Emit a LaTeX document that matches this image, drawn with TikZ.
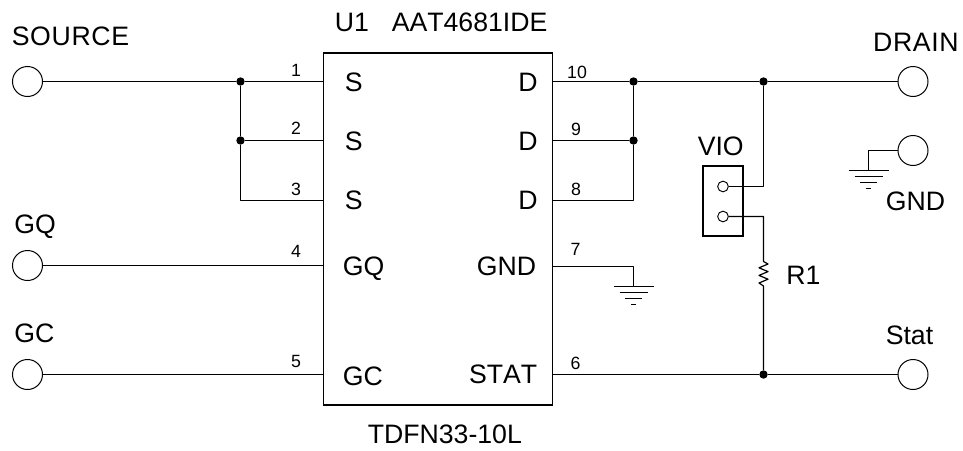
\documentclass[tikz,border=0pt]{standalone}
\usepackage{fontspec}
\setmainfont[Kerning=Off]{Liberation Sans}
\tikzset{
  term/.style={draw,line width=0.75pt,circle,minimum size=22.5pt,inner sep=0pt},
  hole/.style={draw,line width=0.7pt,circle,minimum size=8pt,inner sep=0pt},
  dot/.style={fill,circle,minimum size=6.3pt,inner sep=0pt},
  lbl/.style={inner sep=0pt,font=\fontsize{20}{22}\selectfont},
  lblwide/.style={inner sep=0pt,font=\fontsize{20}{22}\selectfont\addfontfeature{LetterSpace=2.5}},
  pinno/.style={inner sep=0pt,font=\fontsize{13.3}{15}\selectfont},
  wire/.style={line width=0.9pt,join=round},
  gnd/.pic={%
    \draw[wire] (-20,0) -- (20,0) (-14,6) -- (14,6) (-8.5,12) -- (8.5,12) (-2.5,18) -- (2.5,18);%
  },
}
\begin{document}
\begin{tikzpicture}[x=0.75pt,y=-0.75pt]%
\useasboundingbox (0,0) rectangle (963,450);%
% terminals
\node[term] (source) at (27.5,81.5) {};%
\node[term] (gq) at (27.5,265.5) {};%
\node[term] (gc) at (27.5,374.5) {};%
\node[term] (drain) at (913,81.5) {};%
\node[term] (gndt) at (913,150.5) {};%
\node[term] (stat) at (913,374.5) {};%
% package
\node[draw,line width=0.9pt,minimum width=171.75pt,minimum height=264pt,inner sep=0pt] (u1) at (438.2,229) {};%
\coordinate (p1) at (324,81.5);%
\coordinate (p2) at (324,140.5);%
\coordinate (p3) at (324,200.5);%
\coordinate (p4) at (324,265.5);%
\coordinate (p5) at (324,374.5);%
\coordinate (p10) at (553,81.5);%
\coordinate (p9) at (553,140.5);%
\coordinate (p8) at (553,200.5);%
\coordinate (p7) at (553,266.5);%
\coordinate (p6) at (553,374.5);%
% junctions
\node[dot] (js1) at (240.5,81.5) {};%
\node[dot] (js2) at (240.5,140.5) {};%
\node[dot] (jd1) at (633.5,81.5) {};%
\node[dot] (jd2) at (633.5,140.5) {};%
\node[dot] (jr) at (763.5,81.5) {};%
\node[dot] (jb) at (763.5,374.5) {};%
% header
\node[draw,line width=0.9pt,minimum width=30pt,minimum height=52.5pt,inner sep=0pt] (vio) at (723,201) {};%
\node[hole] (h1) at (723,186.5) {};%
\node[hole] (h2) at (723,216.5) {};%
% wires
\draw[wire] (source) -- (js1) -- (p1);%
\draw[wire] (js1) -- (js2) -- (p2);%
\draw[wire] (js2) |- (p3);%
\draw[wire] (gq) -- (p4);%
\draw[wire] (gc) -- (p5);%
\draw[wire] (p10) -- (jd1) -- (jr) -- (drain);%
\draw[wire] (p9) -- (jd2) -- (jd1);%
\draw[wire] (p8) -| (jd2);%
\draw[wire] (p6) -- (jb) -- (stat);%
\draw[wire] (jr) |- (h1);%
% resistor
\coordinate (r1a) at (763.5,261.5);%
\coordinate (r1b) at (763.5,286);%
\draw[wire] (h2) -| (r1a) -- ++(4.5,2.5) -- ++(-9,3.8) -- ++(9,3.8) -- ++(-9,3.8) -- ++(9,3.8) -- ++(-9,3.8) -- (r1b) -- (jb);%
% grounds
\coordinate (g7) at (633.5,286.5);%
\coordinate (g0) at (868.5,170.5);%
\draw[wire] (p7) -| (g7);%
\draw[wire] (gndt) -| (g0);%
\pic at (g7) {gnd};%
\pic at (g0) {gnd};%
% texts
\node[lblwide,anchor=base west] (tsource) at (11.5,45) {SOURCE};%
\node[lbl,anchor=base west] (tgq) at (14,233) {GQ};%
\node[lbl,anchor=base west] (tgc) at (14,342) {GC};%
\node[lblwide,anchor=base east] (tdrain) at (959,51) {DRAIN};%
\node[lbl,anchor=base west] (tgnd) at (885.5,210) {GND};%
\node[lbl,anchor=base west] (tstat) at (885.5,344) {Stat};%
\node[lbl,anchor=base west] (tvio) at (697.5,155) {VIO};%
\node[lbl,anchor=base west] (tr1) at (786,284) {R1};%
\node[lbl,anchor=base west] (tu1) at (334.5,31) {U1};%
\node[lbl,anchor=base west] (tpart) at (391.5,31) {AAT4681IDE};%
\node[lbl,anchor=base west] (tpkg) at (367.5,443) {TDFN33-10L};%
\node[lbl,anchor=base west] (ls1) at (344.5,91) {S};%
\node[lbl,anchor=base west] (ls2) at (344.5,150) {S};%
\node[lbl,anchor=base west] (ls3) at (344.5,209) {S};%
\node[lbl,anchor=base west] (lgq) at (342.5,275) {GQ};%
\node[lbl,anchor=base west] (lgc) at (342.5,385) {GC};%
\node[lbl,anchor=base east] (ld1) at (538,91) {D};%
\node[lbl,anchor=base east] (ld2) at (538,150) {D};%
\node[lbl,anchor=base east] (ld3) at (538,209) {D};%
\node[lbl,anchor=base east] (lgnd) at (536.5,275) {GND};%
\node[lbl,anchor=base east] (lstat) at (537.5,383) {STAT};%
\foreach \n/\x/\y in {1/296/76,2/296/134,3/296/195,4/296/257,5/296/367,10/577/78,9/576/135,8/576/195,7/575.5/255,6/575.5/369}{%
  \node[pinno,anchor=base] (n\n) at (\x,\y) {\n};%
}%
\end{tikzpicture}
\end{document}
